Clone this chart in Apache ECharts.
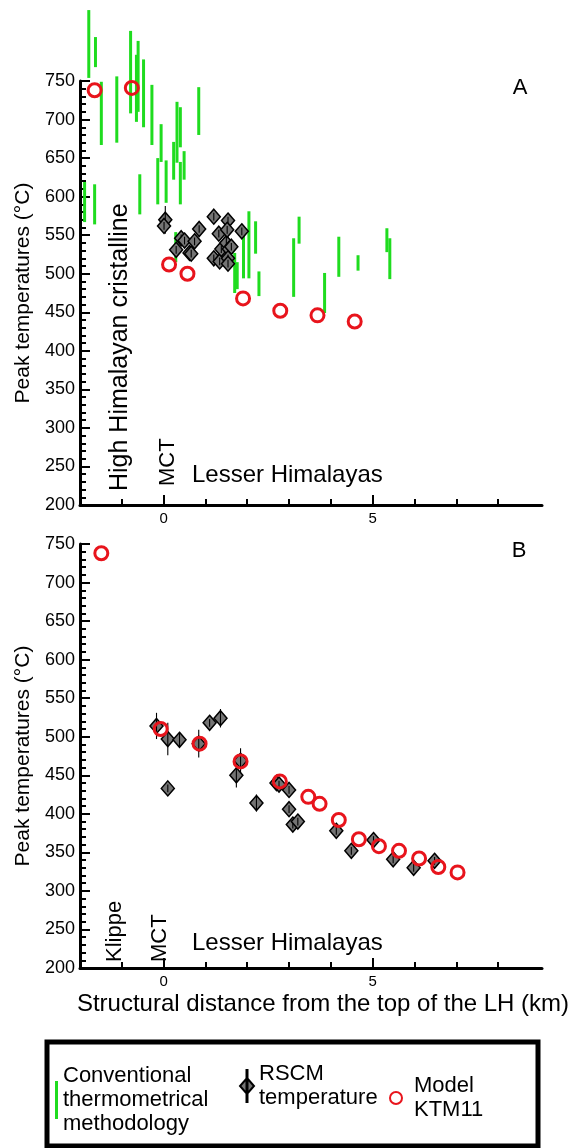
<!DOCTYPE html>
<html>
<head>
<meta charset="utf-8">
<script src="https://cdn.jsdelivr.net/npm/echarts@6/dist/echarts.min.js"></script>
<style>html,body{margin:0;padding:0;background:#fff}#c{width:581px;height:1148px}</style>
</head>
<body>
<div id="c"></div>
<script>
// ---- DATA ----
// Panel A: conventional thermometry ranges [distance km, T low, T high]
const conventionalA = [
  [-1.89, 567, 619], [-1.79, 754, 842], [-1.65, 564, 616], [-1.63, 768, 807],
  [-1.49, 667, 749], [-1.12, 670, 756], [-0.79, 708, 815], [-0.65, 697, 784],
  [-0.61, 710, 802], [-0.57, 577, 629], [-0.48, 690, 778], [-0.28, 667, 745],
  [-0.14, 590, 650], [-0.06, 645, 694], [0.06, 592, 647], [0.24, 622, 671],
  [0.29, 515, 554], [0.32, 644, 723], [0.40, 664, 716], [0.40, 590, 645],
  [0.49, 622, 659], [0.84, 680, 742], [1.70, 475, 527], [1.76, 480, 515],
  [1.91, 494, 550], [2.04, 494, 581], [2.20, 526, 568], [2.28, 471, 503],
  [3.11, 470, 546], [3.24, 539, 574], [3.85, 449, 501], [4.19, 496, 548],
  [4.65, 504, 524], [5.34, 528, 559], [5.41, 493, 546]
];
// Panel A: RSCM temperatures [distance km, T, error]
const rscmA = [
  [0.04, 570, 18], [0.01, 562, 5], [0.30, 531, 5], [0.42, 546, 5], [0.50, 543, 5],
  [0.62, 527, 5], [0.66, 526, 5], [0.74, 542, 5], [0.85, 558, 5], [1.20, 574, 5],
  [1.20, 520, 5], [1.32, 552, 5], [1.34, 516, 5], [1.38, 532, 5], [1.50, 540, 34],
  [1.54, 569, 5], [1.52, 557, 5], [1.56, 532, 5], [1.62, 535, 5], [1.54, 520, 5],
  [1.54, 513, 5], [1.87, 555, 5]
];
// Panel A: model KTM11 [distance km, T]
const modelA = [
  [-1.65, 738], [-0.76, 741], [0.13, 512], [0.57, 500], [1.90, 468],
  [2.79, 452], [3.68, 446], [4.57, 438]
];
// Panel B: RSCM temperatures [distance km, T, error]
const rscmB = [
  [-0.17, 514, 17], [0.10, 497, 21], [0.38, 496, 9], [0.10, 433, 5], [0.84, 491, 18],
  [1.10, 518, 5], [1.36, 524, 12], [1.84, 469, 16], [1.74, 450, 16], [2.22, 414, 11],
  [2.70, 440, 5], [2.76, 438, 5], [3.00, 431, 5], [3.00, 406, 5], [3.09, 386, 5],
  [3.21, 390, 5], [4.13, 378, 5], [4.49, 352, 5], [5.02, 366, 5], [5.49, 341, 5],
  [5.98, 330, 5], [6.48, 339, 5]
];
// Panel B: model KTM11 [distance km, T]
const modelB = [
  [-1.49, 738], [-0.07, 510], [0.86, 491], [1.84, 468], [2.78, 442], [3.46, 422],
  [3.73, 413], [4.19, 392], [4.67, 367], [5.15, 358], [5.63, 352], [6.11, 342],
  [6.57, 331], [7.03, 324]
];
// Tick values
const xMajorTicks = [0, 5];
const xMinorTicks = [-1, 1, 2, 3, 4, 6, 7, 8];
const yMin = 200, yMax = 750, yStep = 50;
const xMin = -2, xMax = 9.05;

const NAME_CONV = 'Conventional\nthermometrical\nmethodology';
const NAME_RSCM = 'RSCM\ntemperature';
const NAME_MODEL = 'Model\nKTM11';

// ---- STYLE ----
const FONT = '"Liberation Sans", Arial, Helvetica, sans-serif';
const GREEN = '#1fdc1f';
const RED = '#e8141c';
const GREY = '#747474';

const chart = echarts.init(document.getElementById('c'), null, { renderer: 'canvas' });

const grids = [
  { left: 80, right: 39, top: 81, height: 424, containLabel: false },
  { left: 80, right: 39, top: 544, height: 424, containLabel: false }
];

function xMajor(gridIndex, withName) {
  const ax = {
    type: 'value', gridIndex, min: xMin, max: xMax, position: 'bottom',
    axisLine: { show: true, onZero: false, lineStyle: { color: '#000', width: 3 } },
    axisTick: { show: true, inside: true, length: 10, customValues: xMajorTicks, lineStyle: { color: '#000', width: 2 } },
    axisLabel: { show: true, customValues: xMajorTicks, margin: 6, fontSize: 15, color: '#000', fontFamily: FONT },
    splitLine: { show: false }
  };
  if (withName) {
    ax.name = 'Structural distance from the top of the LH (km)';
    ax.nameLocation = 'middle';
    ax.nameGap = 24;
    ax.nameTextStyle = { fontSize: 24, color: '#000', fontFamily: FONT, padding: [0, 0, 0, 24] };
  }
  return ax;
}
function xMinor(gridIndex) {
  return {
    type: 'value', gridIndex, min: xMin, max: xMax, position: 'bottom',
    axisLine: { show: false, onZero: false },
    axisTick: { show: true, inside: true, length: 6, customValues: xMinorTicks, lineStyle: { color: '#000', width: 2 } },
    axisLabel: { show: false },
    splitLine: { show: false }
  };
}
function yAx(gridIndex) {
  return {
    type: 'value', gridIndex, min: yMin, max: yMax, interval: yStep,
    name: 'Peak temperatures (°C)', nameLocation: 'middle', nameGap: 43,
    nameTextStyle: { fontSize: 21, color: '#000', fontFamily: FONT },
    axisLine: { show: true, onZero: false, lineStyle: { color: '#000', width: 3 } },
    axisTick: { show: true, inside: true, length: 10, lineStyle: { color: '#000', width: 2 } },
    minorTick: { show: true, splitNumber: 5, length: 6, lineStyle: { color: '#000', width: 2 } },
    axisLabel: { margin: 5, fontSize: 18, color: '#000', fontFamily: FONT },
    splitLine: { show: false }
  };
}

function convSeries(data, xi, yi) {
  return {
    name: NAME_CONV, type: 'custom', xAxisIndex: xi, yAxisIndex: yi, clip: false,
    itemStyle: { color: GREEN },
    encode: { x: 0, y: [1, 2] },
    data: data,
    z: 2,
    renderItem: function (params, api) {
      const p1 = api.coord([api.value(0), api.value(1)]);
      const p2 = api.coord([api.value(0), api.value(2)]);
      return { type: 'line', shape: { x1: p1[0], y1: p1[1], x2: p2[0], y2: p2[1] },
        style: { stroke: GREEN, lineWidth: 3 } };
    }
  };
}
function rscmSeries(data, xi, yi) {
  return {
    name: NAME_RSCM, type: 'custom', xAxisIndex: xi, yAxisIndex: yi, clip: false,
    itemStyle: { color: GREY, borderColor: '#000', borderWidth: 1 },
    encode: { x: 0, y: 1 },
    data: data,
    z: 3,
    renderItem: function (params, api) {
      const x = api.value(0), t = api.value(1), e = api.value(2);
      const c = api.coord([x, t]);
      const yt = api.coord([x, t + e])[1];
      const yb = api.coord([x, t - e])[1];
      const hw = 6.5, hh = 7.5;
      return { type: 'group', children: [
        { type: 'polygon', shape: { points: [[c[0], c[1] - hh], [c[0] + hw, c[1]], [c[0], c[1] + hh], [c[0] - hw, c[1]]] },
          style: { fill: GREY, stroke: '#000', lineWidth: 1.5 } },
        { type: 'line', shape: { x1: c[0], y1: yt, x2: c[0], y2: yb }, style: { stroke: '#000', lineWidth: 1.1 } }
      ] };
    }
  };
}
function modelSeries(data, xi, yi) {
  return {
    name: NAME_MODEL, type: 'scatter', xAxisIndex: xi, yAxisIndex: yi, clip: false,
    symbol: 'circle', symbolSize: 13,
    itemStyle: { color: 'rgba(255,255,255,0)', borderColor: RED, borderWidth: 3, opacity: 1 },
    emphasis: { disabled: true },
    data: data,
    z: 4
  };
}

const legendText = { fontSize: 22, lineHeight: 24, color: '#000', fontFamily: FONT };

const option = {
  animation: false,
  backgroundColor: '#fff',
  grid: grids,
  xAxis: [xMajor(0, false), xMinor(0), xMajor(1, true), xMinor(1)],
  yAxis: [yAx(0), yAx(1)],
  legend: [
    { data: [{ name: NAME_CONV, icon: 'path://M0,0h3v38h-3Z' }], left: 55, top: 1064, itemWidth: 3, itemHeight: 38,
      selectedMode: false, padding: 0, textStyle: legendText },
    { data: [{ name: NAME_RSCM, icon: 'path://M6.5,0h1v32h-1Z M7,8L14,16L7,24L0,16Z' }], left: 239, top: 1062, itemWidth: 14, itemHeight: 32,
      selectedMode: false, padding: 0, textStyle: legendText },
    { data: [NAME_MODEL], left: 389, top: 1074, itemWidth: 26, itemHeight: 12,
      selectedMode: false, padding: 0, textStyle: legendText }
  ],
  graphic: [
    { type: 'rect', shape: { x: 47, y: 1042, width: 491, height: 104 }, style: { fill: 'none', stroke: '#000', lineWidth: 5 }, silent: true },
    { type: 'text', x: 520, y: 88, style: { text: 'A', fontSize: 22, fontFamily: FONT, fill: '#000', align: 'center', verticalAlign: 'middle', textAlign: 'center', textVerticalAlign: 'middle' } },
    { type: 'text', x: 519, y: 551, style: { text: 'B', fontSize: 22, fontFamily: FONT, fill: '#000', align: 'center', verticalAlign: 'middle', textAlign: 'center', textVerticalAlign: 'middle' } },
    { type: 'text', x: 120, y: 491, rotation: Math.PI / 2, style: { text: 'High Himalayan cristalline', fontSize: 25, fontFamily: FONT, fill: '#000', align: 'left', verticalAlign: 'middle', textAlign: 'left', textVerticalAlign: 'middle' } },
    { type: 'text', x: 168, y: 486, rotation: Math.PI / 2, style: { text: 'MCT', fontSize: 22, fontFamily: FONT, fill: '#000', align: 'left', verticalAlign: 'middle', textAlign: 'left', textVerticalAlign: 'middle' } },
    { type: 'text', x: 192, y: 475, style: { text: 'Lesser Himalayas', fontSize: 24, fontFamily: FONT, fill: '#000', align: 'left', verticalAlign: 'middle', textAlign: 'left', textVerticalAlign: 'middle' } },
    { type: 'text', x: 115, y: 962, rotation: Math.PI / 2, style: { text: 'Klippe', fontSize: 22, fontFamily: FONT, fill: '#000', align: 'left', verticalAlign: 'middle', textAlign: 'left', textVerticalAlign: 'middle' } },
    { type: 'text', x: 160, y: 962, rotation: Math.PI / 2, style: { text: 'MCT', fontSize: 22, fontFamily: FONT, fill: '#000', align: 'left', verticalAlign: 'middle', textAlign: 'left', textVerticalAlign: 'middle' } },
    { type: 'text', x: 192, y: 943, style: { text: 'Lesser Himalayas', fontSize: 24, fontFamily: FONT, fill: '#000', align: 'left', verticalAlign: 'middle', textAlign: 'left', textVerticalAlign: 'middle' } }
  ],
  series: [
    convSeries(conventionalA, 0, 0),
    rscmSeries(rscmA, 0, 0),
    modelSeries(modelA, 0, 0),
    rscmSeries(rscmB, 2, 1),
    modelSeries(modelB, 2, 1)
  ]
};
chart.setOption(option);
</script>
</body>
</html>
